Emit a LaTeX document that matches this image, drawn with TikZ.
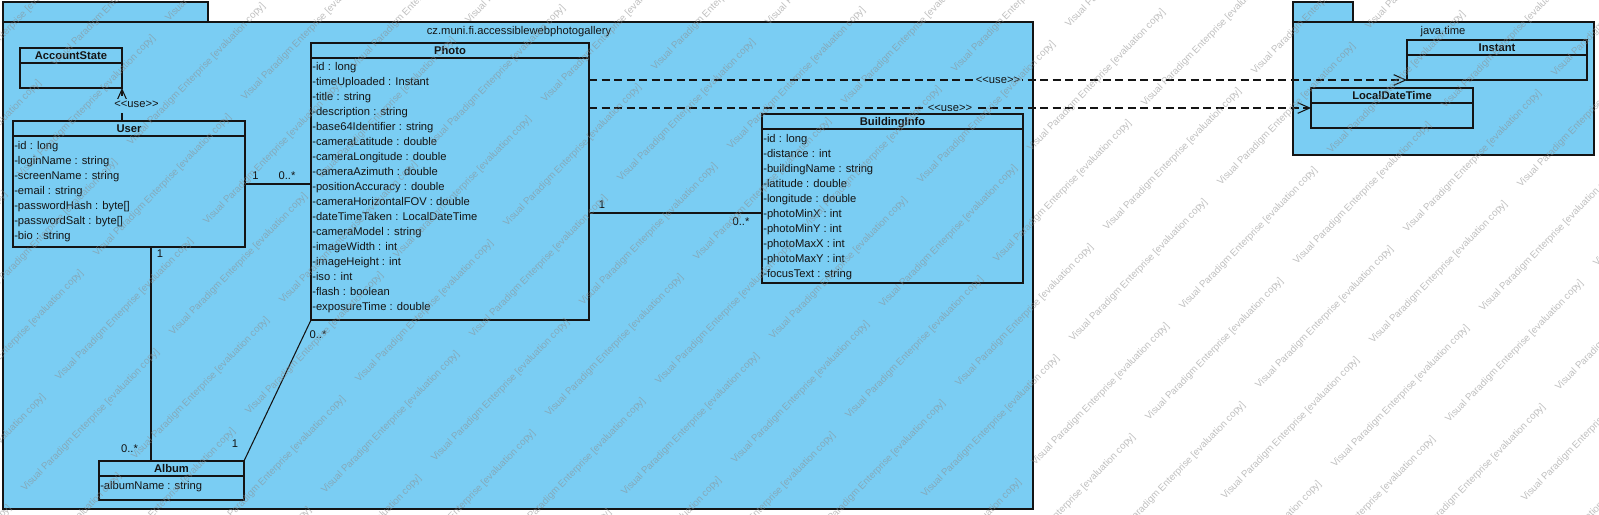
\documentclass[tikz,border=0pt]{standalone}
\usepackage{fontspec}
\setmainfont{Liberation Sans}
\usetikzlibrary{arrows.meta}
\definecolor{pkgblue}{RGB}{122,205,243}
\definecolor{ink}{RGB}{20,20,20}
\newcommand\stereotxt{<\kern0pt<use>\kern0pt>}
\newcommand\wmtxt{Visual Paradigm Enterprise [evaluation copy]}
\tikzset{
 ln/.style={draw=ink, line width=0.8pt},
 pkgbox/.style={ln, fill=pkgblue, inner sep=0pt, outer sep=0pt},
 cls/.style={ln, fill=pkgblue, inner sep=0pt, outer sep=0pt},
 ttl/.style={anchor=base, inner sep=0pt, font=\fontsize{8.4}{10}\selectfont\bfseries, text=ink},
 attr/.style={anchor=base west, inner sep=0pt, font=\fontsize{8.4}{10}\selectfont, text=ink},
 lbl/.style={anchor=base, inner sep=0pt, font=\fontsize{8.4}{10}\selectfont, text=ink},
 stereo/.style={font=\fontsize{8.4}{10}\selectfont, text=ink, fill=pkgblue, inner sep=1.5pt},
 assoc/.style={ln},
 dep/.style={ln, dash pattern=on 6pt off 3.4pt, -{Straight Barb[length=9pt,width=8pt]}},
 wm/.style={anchor=base west, rotate=46, inner sep=0pt, font=\fontsize{7.3}{8}\selectfont, text=black!45, text opacity=0.55},
}
% #1 style, #2 name, #3 x1, #4 y1, #5 x2, #6 y2 (pixel units)
\newcommand\mkbox[6][cls]{\node[#1,anchor=north west,minimum width={(#5-#3)*0.75pt},minimum height={(#6-#4)*0.75pt}] (#2) at (#3,#4) {};}
\newcommand\mkhdr[2]{%
 \draw[ln] ([yshift=-15*0.75pt]#1.north west) -- ([yshift=-15*0.75pt]#1.north east);
 \node[ttl] (#1-t) at ([yshift=-11.5*0.75pt]#1.north) {#2};}
\newcommand\mkattrs[4]{\foreach \t [count=\k from 0] in {#4} {\node[attr] (#1-a\k) at (#2+1, #3+28+15*\k) {\t};}}
\begin{document}
\begin{tikzpicture}[x=0.75pt,y=-0.75pt]
\useasboundingbox (0,0) rectangle (1599,514);
\fill[white] (0,0) rectangle (1599,514);

% packages
\mkbox[pkgbox]{p1tab}{3}{2}{208}{22}
\mkbox[pkgbox]{p1}{3}{22}{1033}{509}
\node[lbl] (p1-l) at (519,34.5) {cz.muni.fi.accessiblewebphotogallery};
\mkbox[pkgbox]{p2tab}{1293}{2}{1353}{22}
\mkbox[pkgbox]{p2}{1293}{22}{1594}{155}
\node[lbl] (p2-l) at (1443,34.5) {java.time};

% classes
\mkbox{acc}{20}{48}{122}{88}
\mkhdr{acc}{AccountState}

\mkbox{user}{13}{121}{245}{247}
\mkhdr{user}{User}
\mkattrs{user}{13}{121}{{-id : long},{-loginName : string},{-screenName : string},{-email : string},{-passwordHash : byte[]},{-passwordSalt : byte[]},{-bio : string}}

\mkbox{photo}{311}{43}{589}{320}
\mkhdr{photo}{Photo}
\mkattrs{photo}{311}{42}{{-id : long},{-timeUploaded : Instant},{-title : string},{-description : string},{-base64Identifier : string},{-cameraLatitude : double},{-cameraLongitude : double},{-cameraAzimuth : double},{-positionAccuracy : double},{-cameraHorizontalFOV : double},{-dateTimeTaken : LocalDateTime},{-cameraModel : string},{-imageWidth : int},{-imageHeight : int},{-iso : int},{-flash : boolean},{-exposureTime : double}}

\mkbox{bi}{762}{114}{1023}{283}
\mkhdr{bi}{BuildingInfo}
\mkattrs{bi}{762}{114}{{-id : long},{-distance : int},{-buildingName : string},{-latitude : double},{-longitude : double},{-photoMinX : int},{-photoMinY : int},{-photoMaxX : int},{-photoMaxY : int},{-focusText : string}}

\mkbox{album}{99}{461}{244}{500}
\mkhdr{album}{Album}
\mkattrs{album}{99}{461}{{-albumName : string}}

\mkbox{instant}{1407}{40}{1587}{80}
\mkhdr{instant}{Instant}

\mkbox{ldt}{1311}{88}{1473}{128}
\mkhdr{ldt}{LocalDateTime}

% helper coordinates
\coordinate (uaX) at (151,0);
\coordinate (pbY) at (0,213);

% associations
\draw[assoc] (user.east) -- (user.east -| photo.west);
\node[lbl] (m1) at (255.5,179) {1};
\node[lbl] (m2) at (287,179) {0..*};

\draw[assoc] (photo.east |- pbY) -- (bi.west |- pbY);
\node[lbl] (m3) at (602,208) {1};
\node[lbl] (m4) at (741,225) {0..*};

\draw[assoc] (user.south -| uaX) -- (album.north -| uaX);
\node[lbl] (m5) at (160,257) {1};
\node[lbl] (m6) at (129.5,452) {0..*};

\draw[assoc] (album.north east) -- (photo.south west);
\node[lbl] (m7) at (235,447) {1};
\node[lbl] (m8) at (318,338) {0..*};

% dependencies
\draw[dep] (user.north -| acc.east) -- (acc.south east)
  node[stereo, midway, xshift=14.5*0.75pt] (d1) {\stereotxt};
\draw[dep] (photo.east |- instant.south west) -- (instant.south west)
  node[stereo, midway] (d2) {\stereotxt};
\draw[dep] (photo.east |- ldt.west) -- (ldt.west)
  node[stereo, midway] (d3) {\stereotxt};

% watermark
\begin{scope}
\clip (0,0) rectangle (1599,514);
\foreach \i in {-12,...,10}{
 \foreach \j in {-8,...,6}{
  \foreach \o in {0,1}{
   \pgfmathsetmacro\wx{1073+76*\i+224*\j+110*\o}
   \pgfmathsetmacro\wy{342+79*\i-77*\j-32*\o}
   \pgfmathtruncatemacro\ok{and(and(\wx>-140,\wx<1600),and(\wy>0,\wy<654))}
   \ifnum\ok=1
    \node[wm] (wm-\i-\j-\o) at (\wx,\wy) {\wmtxt};
   \fi
  }}}
\end{scope}
\end{tikzpicture}
\end{document}
